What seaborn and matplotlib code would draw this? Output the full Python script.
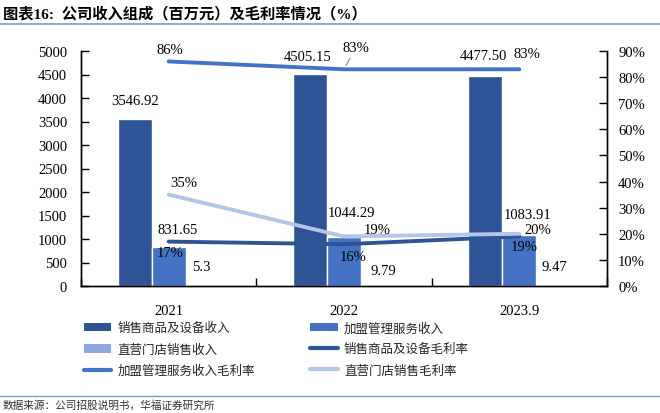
import numpy as np
import pandas as pd
import seaborn as sns
import matplotlib.pyplot as plt
from matplotlib.patches import Patch
from matplotlib.lines import Line2D

# data
years = ['2021', '2022', '2023.9']
goods_rev = [3546.92, 4505.15, 4477.50]      # 销售商品及设备收入
franchise_rev = [831.65, 1044.29, 1083.91]   # 加盟管理服务收入
store_rev = [5.3, 9.79, 9.47]                # 直营门店销售收入
goods_margin = [17, 16, 19]                  # 销售商品及设备毛利率 (%)
franchise_margin = [86, 83, 83]              # 加盟管理服务收入毛利率 (%)
store_margin = [35, 19, 20]                  # 直营门店销售毛利率 (%)

rev_names = ['销售商品及设备收入', '加盟管理服务收入', '直营门店销售收入']
margin_names = ['销售商品及设备毛利率', '加盟管理服务收入毛利率', '直营门店销售毛利率']
left_ticks = list(range(0, 5001, 500))
right_ticks = list(range(0, 91, 10))

rev_colors = ['#2F5496', '#4472C4', '#8EA9DB']
margin_colors = ['#2F5496', '#4472C4', '#B4C6E7']

sns.set_theme(style='ticks')
plt.rcParams['font.family'] = ['Liberation Serif', 'Noto Sans CJK SC']

df = pd.DataFrame({
    'year': years * 3,
    'series': [n for n in rev_names for _ in years],
    'value': goods_rev + franchise_rev + store_rev,
})

fig = plt.figure(figsize=(6.6, 4.14), dpi=100)
ax = fig.add_axes([81 / 660, 1 - 287 / 414, 526 / 660, 235 / 414])

sns.barplot(data=df, x='year', y='value', hue='series', order=years,
            hue_order=rev_names, palette=rev_colors, width=0.58,
            saturation=1, errorbar=None, legend=False, ax=ax)
ax.set_xlim(-0.5, len(years) - 0.5)
ax.set_ylim(0, 5000)
ax.set_yticks(left_ticks)
ax.set_xlabel('')
ax.set_ylabel('')

ax2 = ax.twinx()
xs = np.arange(len(years))
for vals, col in zip([goods_margin, franchise_margin, store_margin], margin_colors):
    sns.lineplot(x=xs, y=vals, color=col, lw=2.8, ax=ax2)
ax2.set_ylim(0, 90)
ax2.set_yticks(right_ticks)
ax2.set_yticklabels([f'{t}%' for t in right_ticks])
ax2.set_ylabel('')

# ticks: boundaries between categories, labels in the middle
ax.set_xticks(np.arange(-0.5, len(years), 1.0))
ax.set_xticklabels([])
ax.set_xticks(xs, minor=True)
ax.set_xticklabels(years, minor=True)
ax.tick_params(axis='x', which='major', direction='in', length=6, width=1, color='black')
ax.tick_params(axis='x', which='minor', length=0, pad=13, labelsize=10.5, labelcolor='black')
ax.tick_params(axis='y', direction='in', length=6, width=1, color='black',
               pad=10, labelsize=10.5, labelcolor='black')
ax2.tick_params(axis='y', direction='in', length=6, width=1, color='black',
                pad=8, labelsize=10.5, labelcolor='black')
for a in (ax, ax2):
    a.spines['top'].set_visible(False)
    for s in ('left', 'right', 'bottom'):
        a.spines[s].set_color('black')
        a.spines[s].set_linewidth(1)

# bar value labels
bar_fmt = ['{:.2f}', '{:.2f}', '{:g}']
bar_off = [[(0, 19), (-2, 18), (-2, 20)],
           [(9, 17), (7, 24), (8, 21)],
           [(-1, 19), (5, 15), (1, 19)]]
for k, cont in enumerate(ax.containers):
    for j, bar in enumerate(cont):
        ax.annotate(bar_fmt[k].format(bar.get_height()),
                    (bar.get_x() + bar.get_width() / 2, bar.get_height()),
                    xytext=bar_off[k][j], textcoords='offset pixels',
                    ha='center', va='center', fontsize=10.5, color='black')

# margin labels
line_off = [[(1, -11), (9, -12), (5, -10)],
            [(1, 12), (12, 22), (8, 16)],
            [(15, 12), (33, 7), (18, 4)]]
for k, vals in enumerate([goods_margin, franchise_margin, store_margin]):
    for j, v in enumerate(vals):
        kw = {}
        if k == 1 and j == 1:
            kw['arrowprops'] = dict(arrowstyle='-', color='#808080', lw=0.8,
                                    shrinkA=1, shrinkB=3)
        ax2.annotate(f'{v}%', (xs[j], v), xytext=line_off[k][j],
                     textcoords='offset pixels', ha='center', va='center',
                     fontsize=10.5, color='black', **kw)

# legend, row-wise order in two columns
rev_handles = [Patch(facecolor=c, edgecolor='none') for c in rev_colors]
margin_handles = [Line2D([], [], color=c, lw=3) for c in margin_colors]
handles = [rev_handles[0], rev_handles[2], margin_handles[1],
           rev_handles[1], margin_handles[0], margin_handles[2]]
labels = [rev_names[0], rev_names[2], margin_names[1],
          rev_names[1], margin_names[0], margin_names[2]]
fig.legend(handles, labels, ncol=2, loc='upper left',
           bbox_to_anchor=(84 / 660, 1 - 323 / 414), frameon=False,
           fontsize=9, handlelength=2.2, handletextpad=0.5,
           columnspacing=4.4, labelspacing=0.72, borderpad=0, borderaxespad=0)

# title, source and rules
fig.text(3 / 660, 1 - 14 / 414, '图表16:  公司收入组成（百万元）及毛利率情况（%）',
         fontsize=11, fontweight='bold', ha='left', va='center', color='black')
fig.add_artist(Line2D([0, 1], [1 - 25 / 414] * 2, color='#7C97C8', lw=1.2))
fig.add_artist(Line2D([0, 1], [1 - 397 / 414] * 2, color='#7C97C8', lw=1.0))
fig.text(3 / 660, 1 - 406 / 414, '数据来源：公司招股说明书，华福证券研究所',
         fontsize=7.7, ha='left', va='center', color='#333333')

fig.savefig('out.png', dpi=100)
